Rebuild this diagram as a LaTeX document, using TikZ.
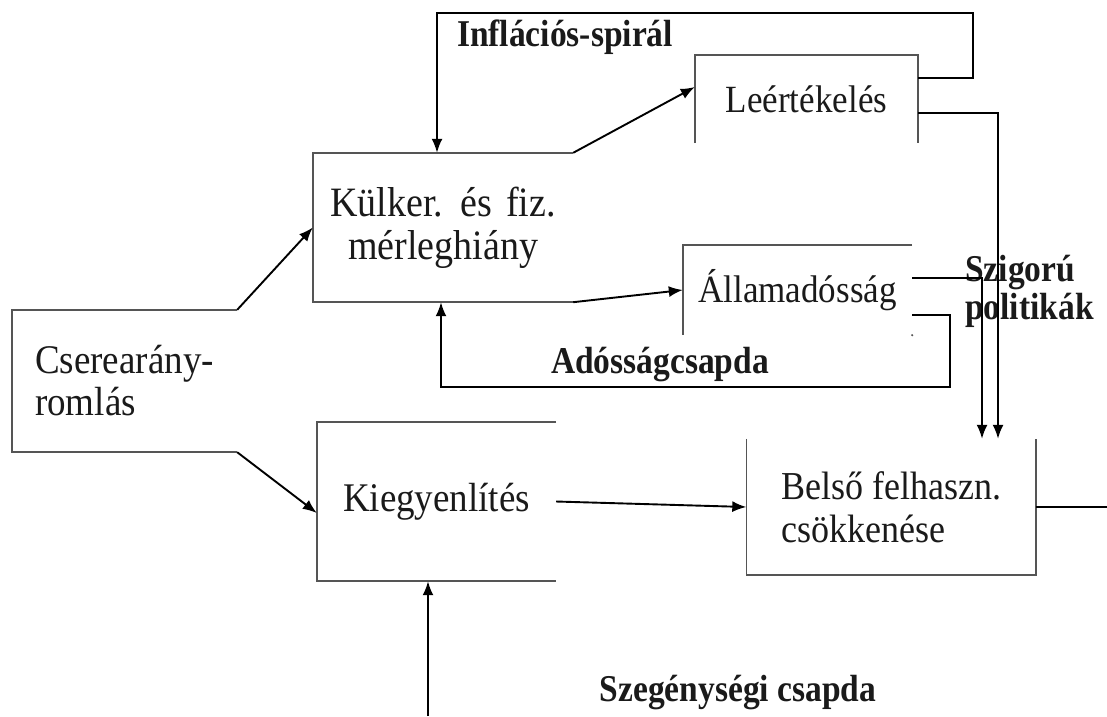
\documentclass[tikz,border=0pt]{standalone}
\usepackage{fontspec}
\setmainfont{Liberation Serif}
\usetikzlibrary{arrows.meta}
\definecolor{boxgray}{HTML}{555555}
\definecolor{ink}{HTML}{1A1A1A}
\newcommand{\talltxt}[1]{\scalebox{1}[1.1]{#1}}
\newcommand{\tallbold}[1]{\scalebox{1}[1.13]{#1}}
\tikzset{
  boxnode/.style={inner sep=0pt, draw=none, text=ink, font=\fontsize{35}{42}\selectfont},
  boxline/.style={draw=boxgray, line width=1.6pt},
  conn/.style={draw=black, line width=1.9pt, -{Latex[length=14pt,width=11pt]}},
  plainconn/.style={draw=black, line width=1.9pt},
  lbl/.style={inner sep=0pt, text=ink, font=\bfseries\fontsize{33.5}{38}\selectfont}
}
\begin{document}
\begin{tikzpicture}[x=1pt,y=-1pt]
\useasboundingbox[fill=white] (0,0) rectangle (1107,716);

% boxes
\node[boxnode, minimum width=225pt, minimum height=142pt, align=left, font=\fontsize{37}{42}\selectfont] (csere) at (124.5,381) {\talltxt{Cserearány-}\\\talltxt{romlás}};
\node[boxnode, minimum width=260pt, minimum height=149pt, align=center, font=\fontsize{38}{43}\selectfont] (kulker) at (443,227.5) {\talltxt{Külker.\hspace{0.12em} és\hspace{0.12em} fiz.}\\\talltxt{mérleghiány}};
\node[boxnode, minimum width=223pt, minimum height=88pt] (leert) at (806.5,99) {\talltxt{Leértékelés}};
\node[boxnode, minimum width=229pt, minimum height=90pt] (allam) at (797.5,290) {\talltxt{Államadósság}};
\node[boxnode, minimum width=239pt, minimum height=159pt, font=\fontsize{37}{42}\selectfont] (kiegy) at (436.5,501.5) {\talltxt{Kiegyenlítés}};
\node[boxnode, minimum width=289pt, minimum height=136pt, align=left, font=\fontsize{36}{43}\selectfont] (belso) at (891,507) {\talltxt{Belső felhaszn.}\\\talltxt{csökkenése}};

% labels
\node[lbl] (infl) at (565,37) {\tallbold{Inflációs-spirál}};
\node[lbl] (adossag) at (660,365) {\tallbold{Adósságcsapda}};
\node[lbl, align=left, anchor=west] (szig) at (965,291) {\tallbold{Szigorú}\\\tallbold{politikák}};
\node[lbl] (szeg) at (738,693) {\tallbold{Szegénységi csapda}};

\coordinate (bot) at (428,716);
\coordinate (rightend) at (1107,507);

% partial box outlines
\draw[boxline] (csere.north east) -- (csere.north west) -- (csere.south west) -- (csere.south east);
\draw[boxline] (kulker.north east) -- (kulker.north west) -- (kulker.south west) -- (kulker.south east);
\draw[boxline] (leert.south west) -- (leert.north west) -- (leert.north east) -- (leert.south east);
\draw[boxline] (allam.north east) -- (allam.north west) -- (allam.south west);
\fill[boxgray] (allam.south east) circle (1.2pt);
\draw[boxline] (kiegy.north east) -- (kiegy.north west) -- (kiegy.south west) -- (kiegy.south east);
\draw[boxline] (belso.north west) -- (belso.south west) -- (belso.south east) -- (belso.north east);

% connectors
\draw[conn] (csere.north east) -- (kulker.west);
\draw[conn] (csere.south east) -- ([yshift=-11.5pt]kiegy.west);
\draw[conn] (kulker.north east) -- ([yshift=12pt]leert.west);
\draw[conn] (kulker.south east) -- (allam.west);
\draw[conn] ([yshift=21pt]leert.east) -| (973,13) -| ([xshift=-6pt]kulker.north);
\draw[conn] ([yshift=-14pt]leert.east) -| ([xshift=107pt]belso.north);
\draw[conn] ([yshift=12pt]allam.east) -| ([xshift=91pt]belso.north);
\draw[conn] ([yshift=-25pt]allam.east) -| (950,387) -| ([xshift=-2pt]kulker.south);
\draw[conn] (kiegy.east) -- (belso.west);
\draw[plainconn] (belso.east) -- (rightend);
\draw[conn] (bot) -- (kiegy.south -| bot);
\end{tikzpicture}
\end{document}
